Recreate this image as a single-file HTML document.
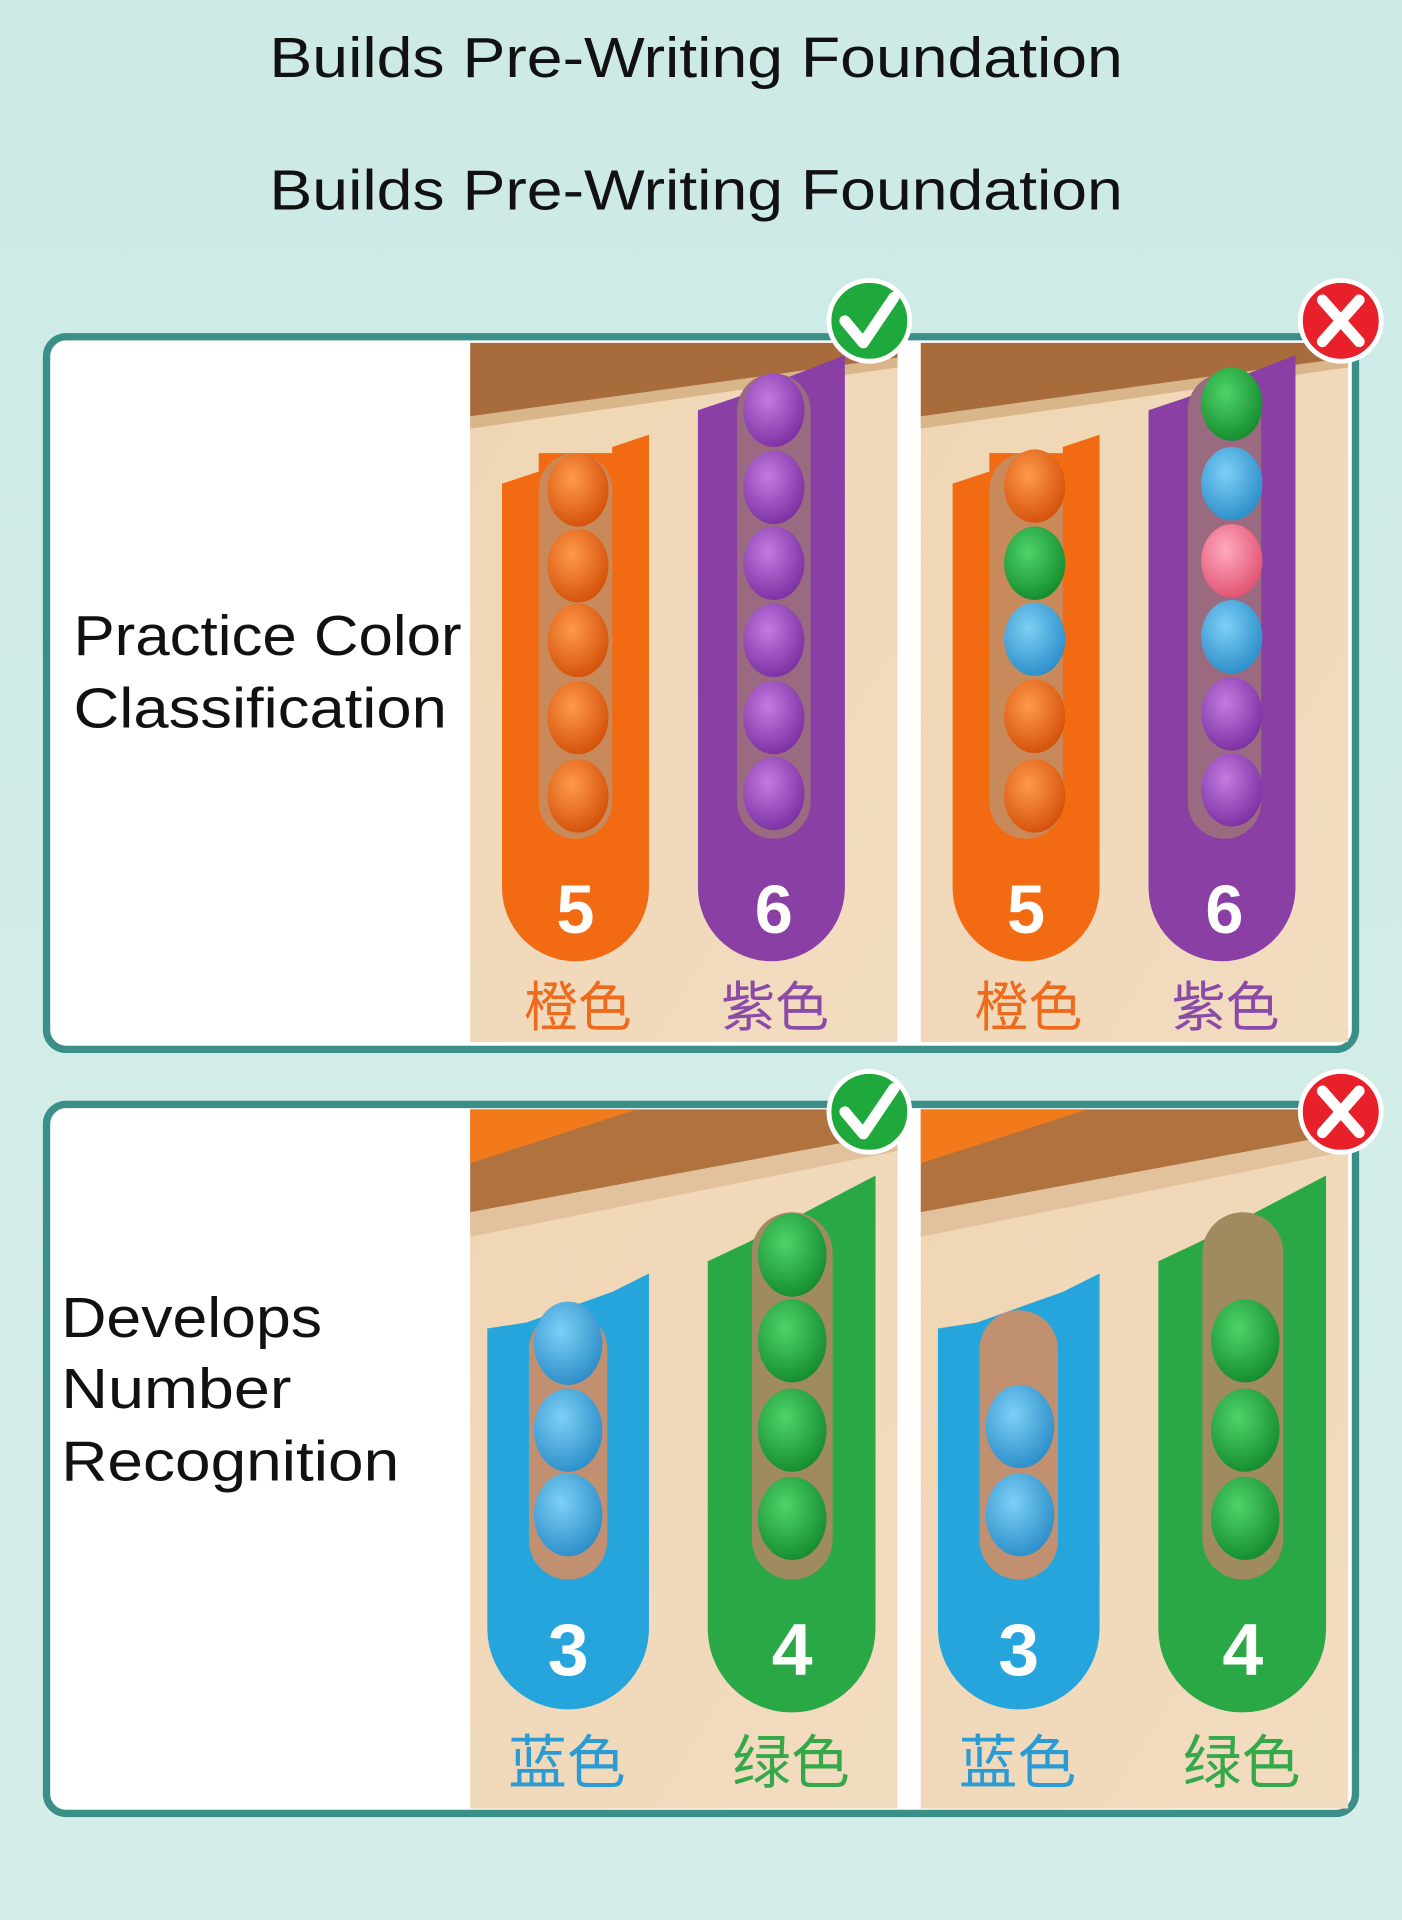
<!DOCTYPE html>
<html><head><meta charset="utf-8"><style>
html,body{margin:0;padding:0;width:1402px;height:1920px;overflow:hidden;background:#d3ece8}
svg{display:block}
</style></head><body>
<svg width="1402" height="1920" viewBox="0 0 1145 1568" xmlns="http://www.w3.org/2000/svg">
<defs>
<linearGradient id="bg" x1="0" y1="0" x2="0" y2="1"><stop offset="0" stop-color="#cdeae6"/><stop offset="1" stop-color="#d6eeea"/></linearGradient>
<radialGradient id="ballO" cx="0.4" cy="0.35" r="0.7"><stop offset="0" stop-color="#ff9a4a"/><stop offset="1" stop-color="#d24f08"/></radialGradient>
<radialGradient id="ballP" cx="0.4" cy="0.35" r="0.7"><stop offset="0" stop-color="#c27be0"/><stop offset="1" stop-color="#7a2ea0"/></radialGradient>
<radialGradient id="ballG" cx="0.4" cy="0.35" r="0.7"><stop offset="0" stop-color="#4fd46a"/><stop offset="1" stop-color="#138a2c"/></radialGradient>
<radialGradient id="ballB" cx="0.4" cy="0.35" r="0.7"><stop offset="0" stop-color="#7dd0f5"/><stop offset="1" stop-color="#2a8cc8"/></radialGradient>
<radialGradient id="ballK" cx="0.4" cy="0.35" r="0.7"><stop offset="0" stop-color="#ffaac0"/><stop offset="1" stop-color="#e0506f"/></radialGradient>
<linearGradient id="wood" x1="0" y1="0" x2="1" y2="1"><stop offset="0" stop-color="#efd6b4"/><stop offset="1" stop-color="#f2dcc0"/></linearGradient>
</defs>
<rect width="1145" height="1568" fill="url(#bg)"/>
<g font-family="Liberation Sans, DejaVu Sans, sans-serif" font-size="46" fill="#111">
<text x="220" y="63" textLength="697" lengthAdjust="spacingAndGlyphs">Builds Pre-Writing Foundation</text>
<text x="220" y="171" textLength="697" lengthAdjust="spacingAndGlyphs">Builds Pre-Writing Foundation</text>
</g>

<!-- Panel 1 -->
<rect x="38" y="275" width="1069" height="582" rx="16" fill="#fff" stroke="#3a8f88" stroke-width="6"/>
<g font-family="Liberation Sans, DejaVu Sans, sans-serif" font-size="46" fill="#111">
<text x="60" y="535" textLength="317" lengthAdjust="spacingAndGlyphs">Practice Color</text>
<text x="60" y="594" textLength="305" lengthAdjust="spacingAndGlyphs">Classification</text>
</g>
<g id="p1l">
<rect x="384" y="280" width="349" height="571" fill="url(#wood)"/>
<polygon points="384,280 733,280 733,292 384,340" fill="#a86b3c"/>
<polygon points="384,340 733,292 733,300 384,350" fill="#d9b58a"/>
<path d="M410 395 L440 385 L440 370 L500 370 L500 365 L530 355 L530 725 A60 60 0 0 1 410 725 Z" fill="#f26a12"/>
<rect x="440" y="370" width="60" height="315" rx="30" fill="#c88a5a"/>
<path d="M570 335 L600 325 L690 290 L690 725 A60 60 0 0 1 570 725 Z" fill="#8a3fa4"/>
<rect x="602" y="305" width="60" height="380" rx="30" fill="#9a6a80"/>
<text x="470" y="762" font-family="Liberation Sans, sans-serif" font-weight="bold" font-size="56" fill="#fff" text-anchor="middle">5</text>
<text x="632" y="762" font-family="Liberation Sans, sans-serif" font-weight="bold" font-size="56" fill="#fff" text-anchor="middle">6</text>
<text x="472" y="838" font-family="Noto Sans CJK SC, sans-serif" font-size="44" fill="#ee6a1c" text-anchor="middle">橙色</text>
<text x="633" y="838" font-family="Noto Sans CJK SC, sans-serif" font-size="44" fill="#8a4aa6" text-anchor="middle">紫色</text>
</g>
<g fill="url(#ballO)">
<ellipse cx="472" cy="400" rx="25" ry="30"/><ellipse cx="472" cy="462" rx="25" ry="30"/><ellipse cx="472" cy="523" rx="25" ry="30"/><ellipse cx="472" cy="586" rx="25" ry="30"/><ellipse cx="472" cy="650" rx="25" ry="30"/>
</g>
<g fill="url(#ballP)">
<ellipse cx="632" cy="335" rx="25" ry="30"/><ellipse cx="632" cy="398" rx="25" ry="30"/><ellipse cx="632" cy="460" rx="25" ry="30"/><ellipse cx="632" cy="523" rx="25" ry="30"/><ellipse cx="632" cy="586" rx="25" ry="30"/><ellipse cx="632" cy="648" rx="25" ry="30"/>
</g>
<use href="#p1l" x="368"/>
<ellipse cx="845" cy="397" rx="25" ry="30" fill="url(#ballO)"/>
<ellipse cx="845" cy="460" rx="25" ry="30" fill="url(#ballG)"/>
<ellipse cx="845" cy="522" rx="25" ry="30" fill="url(#ballB)"/>
<ellipse cx="845" cy="585" rx="25" ry="30" fill="url(#ballO)"/>
<ellipse cx="845" cy="650" rx="25" ry="30" fill="url(#ballO)"/>
<ellipse cx="1006" cy="330" rx="25" ry="30" fill="url(#ballG)"/>
<ellipse cx="1006" cy="395" rx="25" ry="30" fill="url(#ballB)"/>
<ellipse cx="1006" cy="458" rx="25" ry="30" fill="url(#ballK)"/>
<ellipse cx="1006" cy="520" rx="25" ry="30" fill="url(#ballB)"/>
<ellipse cx="1006" cy="583" rx="25" ry="30" fill="url(#ballP)"/>
<ellipse cx="1006" cy="645" rx="25" ry="30" fill="url(#ballP)"/>
<rect x="733" y="280" width="18" height="571" fill="#fff"/>

<!-- Panel 2 -->
<rect x="38" y="902" width="1069" height="579" rx="16" fill="#fff" stroke="#3a8f88" stroke-width="6"/>
<g font-family="Liberation Sans, DejaVu Sans, sans-serif" font-size="46" fill="#111">
<text x="50" y="1092" textLength="213" lengthAdjust="spacingAndGlyphs">Develops</text>
<text x="50" y="1150" textLength="188" lengthAdjust="spacingAndGlyphs">Number</text>
<text x="50" y="1209" textLength="276" lengthAdjust="spacingAndGlyphs">Recognition</text>
</g>
<g id="p2l">
<rect x="384" y="906" width="349" height="571" fill="url(#wood)"/>
<polygon points="384,906 733,906 733,925 384,990" fill="#b0733f"/>
<polygon points="384,906 520,906 384,950" fill="#f27a1a"/>
<polygon points="384,990 733,925 733,940 384,1010" fill="#e2c29c"/>
<path d="M398 1085 L430 1080 L500 1055 L530 1040 L530 1330 A66 66 0 0 1 398 1330 Z" fill="#25a5dc"/>
<rect x="432" y="1070" width="64" height="220" rx="32" fill="#c09070"/>
<path d="M578 1030 L610 1015 L715 960 L715 1330 A68 68 0 0 1 578 1330 Z" fill="#2aa846"/>
<rect x="614" y="990" width="66" height="300" rx="33" fill="#a08a60"/>
<text x="464" y="1368" font-family="Liberation Sans, sans-serif" font-weight="bold" font-size="60" fill="#fff" text-anchor="middle">3</text>
<text x="647" y="1368" font-family="Liberation Sans, sans-serif" font-weight="bold" font-size="60" fill="#fff" text-anchor="middle">4</text>
<text x="463" y="1456" font-family="Noto Sans CJK SC, sans-serif" font-size="48" fill="#2a9bd4" text-anchor="middle">蓝色</text>
<text x="646" y="1456" font-family="Noto Sans CJK SC, sans-serif" font-size="48" fill="#35a84a" text-anchor="middle">绿色</text>
</g>
<g fill="url(#ballB)"><ellipse cx="464" cy="1097" rx="28" ry="34"/><ellipse cx="464" cy="1168" rx="28" ry="34"/><ellipse cx="464" cy="1237" rx="28" ry="34"/></g>
<g fill="url(#ballG)"><ellipse cx="647" cy="1025" rx="28" ry="34"/><ellipse cx="647" cy="1095" rx="28" ry="34"/><ellipse cx="647" cy="1168" rx="28" ry="34"/><ellipse cx="647" cy="1240" rx="28" ry="34"/></g>
<use href="#p2l" x="368"/>
<g fill="url(#ballB)"><ellipse cx="833" cy="1165" rx="28" ry="34"/><ellipse cx="833" cy="1237" rx="28" ry="34"/></g>
<g fill="url(#ballG)"><ellipse cx="1017" cy="1095" rx="28" ry="34"/><ellipse cx="1017" cy="1168" rx="28" ry="34"/><ellipse cx="1017" cy="1240" rx="28" ry="34"/></g>
<rect x="733" y="906" width="18" height="571" fill="#fff"/>

<g id="chk"><circle cx="710" cy="262" r="33" fill="#1fa83c" stroke="#fff" stroke-width="4"/>
<path d="M690 262 L705 280 L730 243" fill="none" stroke="#fff" stroke-width="9" stroke-linecap="round" stroke-linejoin="round"/></g>
<g id="crs"><circle cx="1095" cy="262" r="33" fill="#e8202a" stroke="#fff" stroke-width="4"/>
<path d="M1080 245 L1110 279 M1110 245 L1080 279" stroke="#fff" stroke-width="9" stroke-linecap="round"/></g>
<use href="#chk" y="646"/>
<use href="#crs" y="646"/>
</svg>
</body></html>
